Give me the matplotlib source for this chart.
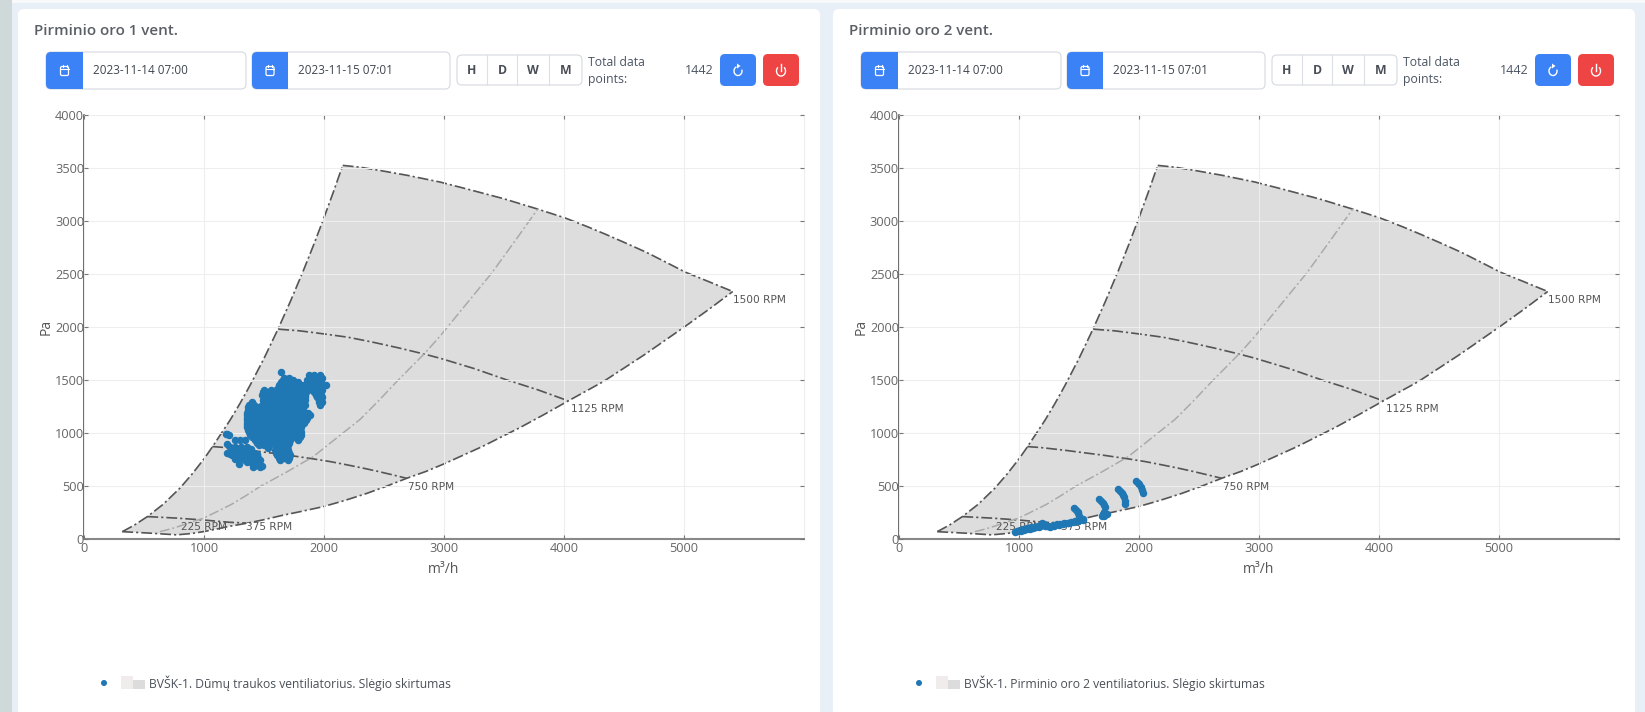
import matplotlib
matplotlib.use("Agg")
import matplotlib.pyplot as plt
from matplotlib.patches import FancyBboxPatch, Rectangle, Arc, Circle, Polygon

plt.rcParams['font.family'] = ['Open Sans', 'DejaVu Sans']

# ---------- data ----------
panel_titles = ["Pirminio oro 1 vent.", "Pirminio oro 2 vent."]
legend_labels = ["BVŠK-1. Dūmų traukos ventiliatorius. Slėgio skirtumas",
                 "BVŠK-1. Pirminio oro 2 ventiliatorius. Slėgio skirtumas"]
date_from = "2023-11-14 07:00"
date_to = "2023-11-15 07:01"
range_buttons = ["H", "D", "W", "M"]
total_points = "1442"
x_ticks = [0, 1000, 2000, 3000, 4000, 5000]
y_ticks = [0, 500, 1000, 1500, 2000, 2500, 3000, 3500, 4000]

left_x = [319, 420, 528, 660, 800, 900, 1000, 1069, 1217, 1300, 1383, 1500, 1619, 1720, 1828, 1910, 1994, 2075, 2156]
left_y = [72, 134, 214, 330, 483, 614, 758, 870, 1123, 1281, 1450, 1705, 1987, 2243, 2533, 2765, 3014, 3264, 3525]
top_x = [2156, 2300, 2467, 2700, 2967, 3200, 3500, 3781, 4008, 4200, 4356, 4520, 4689, 4850, 5008, 5200, 5406]
top_y = [3525, 3508, 3477, 3430, 3368, 3300, 3210, 3113, 3030, 2945, 2871, 2790, 2704, 2612, 2520, 2432, 2336]
bottom_x = [319, 550, 772, 900, 994, 1100, 1200, 1355, 1500, 1650, 1820, 1994, 2170, 2350, 2520, 2689, 2850, 3000,
            3320, 3633, 3840, 4036, 4328, 4670, 5008, 5210, 5406]
bottom_y = [72, 58, 42, 55, 72, 95, 120, 151, 185, 225, 265, 308, 365, 430, 500, 575, 640, 711,
            875, 1053, 1180, 1305, 1487, 1740, 2006, 2170, 2336]
rpm1125_x = [1619, 1800, 1994, 2200, 2400, 2620, 2829, 2967, 3250, 3522, 3780, 4036]
rpm1125_y = [1981, 1965, 1937, 1905, 1860, 1805, 1748, 1707, 1610, 1503, 1410, 1305]
rpm750_x = [1069, 1180, 1300, 1400, 1500, 1700, 1900, 2050, 2200, 2330, 2450, 2570, 2689]
rpm750_y = [874, 865, 850, 837, 822, 793, 760, 733, 700, 670, 640, 608, 575]
rpm375_x = [528, 770, 994, 1217, 1355]
rpm375_y = [214, 200, 182, 160, 153]
mid_x = [633, 720, 800, 900, 994, 1110, 1230, 1350, 1467, 1690, 1911, 2100, 2300, 2450, 2606, 2841, 2967, 3180, 3397, 3590, 3781]
mid_y = [72, 97, 125, 165, 198, 262, 330, 412, 497, 635, 780, 950, 1130, 1300, 1487, 1755, 1915, 2210, 2509, 2810, 3113]
rpm_names = ["1500 RPM", "1125 RPM", "750 RPM", "225 RPM", "375 RPM"]
rpm_x = [5408, 4058, 2703, 806, 1347]
rpm_y = [2257, 1229, 493, 115, 115]

fan1_rows_y = [1575, 1550, 1525, 1505, 1480, 1455, 1430, 1408, 1385, 1361, 1338, 1314, 1290, 1266, 1243, 1219, 1195,
               1172, 1148, 1125, 1100, 1078, 1055, 1031, 1007, 983, 960, 936, 912, 889, 865, 842, 818, 795, 770, 748,
               993, 985, 936, 898, 867, 848, 826, 817, 800, 795, 779, 763, 757, 745, 732, 716, 707, 695, 678]
fan1_rows_x = [
    [1639],
    [1875, 1920, 1965],
    [1665, 1710, 1890, 1940, 1985],
    [1655, 1695, 1740, 1860, 1905, 1950, 1978],
    [1640, 1690, 1735, 1785, 1880, 1925, 1970],
    [1625, 1670, 1715, 1760, 1805, 1830, 1875, 1920, 1965, 2015],
    [1620, 1665, 1710, 1755, 1800, 1845, 1890, 1935, 1980],
    [1500, 1560, 1597, 1640, 1685, 1730, 1775, 1820, 1855, 1900, 1945, 1980],
    [1490, 1535, 1580, 1625, 1670, 1715, 1760, 1805, 1850, 1920, 1965],
    [1485, 1530, 1575, 1620, 1665, 1710, 1755, 1800, 1840, 1930, 1978],
    [1500, 1545, 1590, 1635, 1680, 1725, 1770, 1815, 1840, 1945, 1980],
    [1490, 1510, 1553, 1597, 1640, 1685, 1730, 1775, 1820, 1842, 1955, 1978],
    [1400, 1510, 1550, 1595, 1640, 1685, 1730, 1775, 1820, 1960, 1980],
    [1372, 1420, 1485, 1530, 1575, 1620, 1665, 1710, 1755, 1800, 1840, 1967],
    [1368, 1410, 1445, 1505, 1550, 1595, 1640, 1685, 1730, 1775, 1820],
    [1365, 1410, 1462, 1500, 1553, 1597, 1640, 1685, 1730, 1775, 1825],
    [1360, 1405, 1450, 1495, 1540, 1585, 1630, 1675, 1720, 1765, 1810, 1870],
    [1358, 1400, 1445, 1490, 1535, 1580, 1625, 1670, 1715, 1760, 1805, 1850, 1880],
    [1358, 1403, 1448, 1493, 1538, 1583, 1628, 1673, 1718, 1763, 1808, 1860],
    [1358, 1403, 1448, 1493, 1538, 1583, 1628, 1673, 1718, 1763, 1808, 1853],
    [1358, 1400, 1445, 1490, 1535, 1580, 1625, 1670, 1715, 1760, 1805, 1835],
    [1358, 1400, 1445, 1490, 1535, 1580, 1625, 1670, 1715, 1760, 1812],
    [1360, 1405, 1450, 1495, 1540, 1585, 1630, 1675, 1720, 1765, 1805],
    [1363, 1408, 1453, 1498, 1543, 1588, 1633, 1678, 1723, 1768, 1798],
    [1372, 1417, 1462, 1507, 1552, 1597, 1642, 1687, 1732, 1777, 1805],
    [1385, 1430, 1475, 1520, 1565, 1610, 1655, 1700, 1745, 1790, 1812],
    [1400, 1445, 1490, 1535, 1580, 1625, 1670, 1715, 1760, 1800],
    [1427, 1470, 1515, 1560, 1605, 1650, 1695, 1715, 1786],
    [1440, 1490, 1535, 1580, 1625, 1670, 1710],
    [1455, 1500, 1545, 1590, 1635, 1680, 1700],
    [1530, 1600, 1645, 1695],
    [1595, 1640, 1700],
    [1600, 1650, 1705],
    [1608, 1660, 1715],
    [1625, 1670, 1710],
    [1636, 1700],
    [1194, 1180],
    [1205],
    [1258, 1342, 1300],
    [1189],
    [1217, 1260, 1310, 1360],
    [1240, 1280, 1258, 1300, 1345, 1390],
    [1286, 1375, 1230, 1330],
    [1189, 1230, 1415, 1280, 1350],
    [1220, 1270, 1320, 1375, 1400, 1440],
    [1231, 1280, 1325, 1369, 1440],
    [1411, 1330, 1290, 1375],
    [1314, 1370, 1420, 1453],
    [1258, 1290, 1350],
    [1340, 1385, 1400, 1470],
    [1356, 1439, 1405],
    [1397, 1430, 1453],
    [1294],
    [1420, 1480],
    [1411, 1467],
]

fan2_x = [967, 990, 1015, 1040, 1065, 1090, 1115, 1140, 1165, 1189, 1215, 1240, 1259, 1286, 1315, 1345, 1375,
          1405, 1435, 1465, 1495, 1536, 1459, 1475, 1490, 1495, 1500, 1503,
          1670, 1685, 1700, 1709, 1713, 1711, 1704, 1689, 1710, 1736,
          1828, 1842, 1858, 1870, 1878, 1882, 1884,
          1973, 1988, 2002, 2014, 2024, 2031, 1175, 1205, 1230, 1190,
          980, 1010, 1040, 1070, 1100, 1130, 1160, 1290, 1330, 1370, 1410, 1450, 1490, 1530]
fan2_y = [72, 76, 82, 88, 94, 100, 106, 112, 118, 135, 125, 122, 119, 135, 142, 148, 152,
          158, 164, 170, 176, 190, 292, 278, 262, 245, 215, 182,
          377, 358, 342, 324, 300, 261, 240, 222, 222, 236,
          475, 458, 438, 418, 395, 365, 333,
          550, 535, 517, 497, 465, 434, 125, 140, 130, 150,
          82, 90, 98, 104, 112, 120, 130, 125, 132, 140, 150, 160, 170, 180]

fan_x_series = [[x for row in fan1_rows_x for x in row], fan2_x]
fan_y_series = [[y for y, row in zip(fan1_rows_y, fan1_rows_x) for _ in row], fan2_y]

# ---------- layout ----------
W, H = 1645, 712
fig = plt.figure(figsize=(W / 100, H / 100), dpi=100, facecolor="#e9eff7")
ui = fig.add_axes([0, 0, 1, 1], zorder=0)
ui.set_xlim(0, W)
ui.set_ylim(H, 0)
ui.axis("off")

BLUE = "#3b82f6"
RED = "#ef4444"
INK = "#4b5563"
PLOT = "#1f77b4"


def rbox(x0, y0, x1, y1, fc, ec="none", r=5, lw=1, z=2):
    ui.add_patch(FancyBboxPatch((x0, y0), x1 - x0, y1 - y0, boxstyle=f"round,pad=0,rounding_size={r}",
                                fc=fc, ec=ec, lw=lw, zorder=z))


ui.add_patch(Rectangle((0, 0), 12, H, fc="#cfd9da", ec="none", zorder=1))
ui.add_patch(Rectangle((12, 0), W, 3, fc="#f7f9fb", ec="none", zorder=1))


def calendar(cx, cy):
    ui.add_patch(FancyBboxPatch((cx - 4, cy - 4), 8, 9, boxstyle="round,pad=0,rounding_size=1.5",
                                fc="none", ec="white", lw=0.9, zorder=5))
    ui.plot([cx - 4, cx + 4], [cy - 1.5, cy - 1.5], color="white", lw=0.8, zorder=5)
    ui.plot([cx - 2, cx - 2], [cy - 6, cy - 3.5], color="white", lw=0.8, zorder=5)
    ui.plot([cx + 2, cx + 2], [cy - 6, cy - 3.5], color="white", lw=0.8, zorder=5)


def date_box(x0, x1, xb, text):
    rbox(x0, 52, x1, 89, "white", "#d5d9e0", r=5, lw=0.8)
    rbox(x0, 52, xb, 89, BLUE, r=5, z=3)
    ui.add_patch(Rectangle((xb - 8, 52), 8, 37, fc=BLUE, ec="none", zorder=3))
    calendar((x0 + xb) / 2, 70.5)
    ui.text(xb + 10, 71, text, fontsize=8.5, color="#3f4650", va="center", ha="left", zorder=5)


for i, off in enumerate([0, 815]):
    rbox(18 + off, 9, 820 + off, 740, "white", r=6, z=1)
    ui.text(34 + off, 31, panel_titles[i], fontsize=10.9, color="#5a5f66", fontweight="semibold",
            va="center", ha="left", zorder=5)
    date_box(46 + off, 246 + off, 83 + off, date_from)
    date_box(252 + off, 450 + off, 288 + off, date_to)
    rbox(457 + off, 55, 582 + off, 85, "white", "#d5d9e0", r=5, lw=0.8)
    for xd in [487, 517, 549]:
        ui.plot([xd + off, xd + off], [55, 85], color="#dcdfe5", lw=0.8, zorder=3)
    for xc, lab in zip([472, 502, 533, 566], range_buttons):
        ui.text(xc + off, 70.5, lab, fontsize=8.8, color="#4a4f57", fontweight="bold",
                va="center", ha="center", zorder=5)
    ui.text(588 + off, 62, "Total data", fontsize=8.8, color=INK, va="center", ha="left", zorder=5)
    ui.text(588 + off, 80, "points:", fontsize=8.8, color=INK, va="center", ha="left", zorder=5)
    ui.text(714 + off, 71, total_points, fontsize=9, color=INK, va="center", ha="right", zorder=5)
    rbox(720 + off, 54, 756 + off, 86, BLUE, r=5)
    rbox(763 + off, 54, 799 + off, 86, RED, r=5)
    ui.add_patch(Arc((738 + off, 71), 8, 9, theta1=-20, theta2=250, ec="white", lw=1.0, zorder=5))
    ui.add_patch(Polygon([(737 + off, 63.5), (740.5 + off, 66), (737 + off, 68.5)], fc="white", ec="none", zorder=5))
    ui.add_patch(Arc((781 + off, 71), 9, 10, theta1=-50, theta2=230, ec="white", lw=1.0, zorder=5))
    ui.plot([781 + off, 781 + off], [64, 70.5], color="white", lw=1.0, zorder=5)
    ui.add_patch(Circle((104 + off, 683), 3, fc=PLOT, ec="none", zorder=5))
    ui.add_patch(Rectangle((121 + off, 676), 12, 13, fc="#f0ecec", ec="none", zorder=4))
    ui.add_patch(Rectangle((133 + off, 680), 12, 9, fc="#dcdcdc", ec="none", zorder=4))
    ui.text(149 + off, 683, legend_labels[i], fontsize=8.75, color="#4a5058", va="center", ha="left", zorder=5)

    ax = fig.add_axes([(84 + off) / W, (H - 539.3) / H, 720 / W, 424.3 / H], zorder=2)
    ax.set_xlim(0, 6000)
    ax.set_ylim(0, 4000)
    ax.patch.set_alpha(0)
    ax.fill(left_x + top_x + bottom_x[::-1], left_y + top_y + bottom_y[::-1], color="#dddddd", lw=0, zorder=0.5)
    ax.set_axisbelow(False)
    ax.grid(True, color="#eeeeee", lw=0.75, zorder=1)
    for gl in ax.get_xgridlines() + ax.get_ygridlines():
        gl.set_zorder(1)
    dd = (0, (6.5, 1.8, 1.3, 1.8))
    for cx, cy in [(left_x, left_y), (top_x, top_y), (bottom_x, bottom_y), (rpm1125_x, rpm1125_y),
                   (rpm750_x, rpm750_y), (rpm375_x, rpm375_y)]:
        ax.plot(cx, cy, color="#555555", lw=1.2, ls=dd, zorder=2)
    ax.plot(mid_x, mid_y, color="#aaaaaa", lw=1.1, ls=dd, zorder=2)
    for name, tx, ty in zip(rpm_names, rpm_x, rpm_y):
        ax.text(tx, ty, name, fontsize=7.6, family="DejaVu Sans", color="#555555", va="center", ha="left", zorder=3)
    ax.scatter(fan_x_series[i], fan_y_series[i], s=29, color=PLOT, lw=0, zorder=4, clip_on=False)

    ax.set_xticks(x_ticks)
    ax.set_yticks(y_ticks)
    ax.tick_params(axis="both", direction="in", length=3, width=0.8, color="#777777",
                   top=True, right=True, labelcolor="#666666", labelsize=9.2)
    ax.tick_params(axis="x", pad=2)
    ax.tick_params(axis="y", pad=0)
    for s in ["top", "right"]:
        ax.spines[s].set_color("#eeeeee")
        ax.spines[s].set_linewidth(0.8)
    ax.spines["left"].set_color("#444444")
    ax.spines["left"].set_linewidth(1.1)
    ax.spines["bottom"].set_color("#888888")
    ax.spines["bottom"].set_linewidth(1.5)
    ax.set_xlabel("m³/h", fontsize=10, color="#555555", labelpad=5)
    ax.set_ylabel("Pa", fontsize=10, color="#555555", labelpad=1)

fig.savefig("out.png", dpi=100, facecolor=fig.get_facecolor())
